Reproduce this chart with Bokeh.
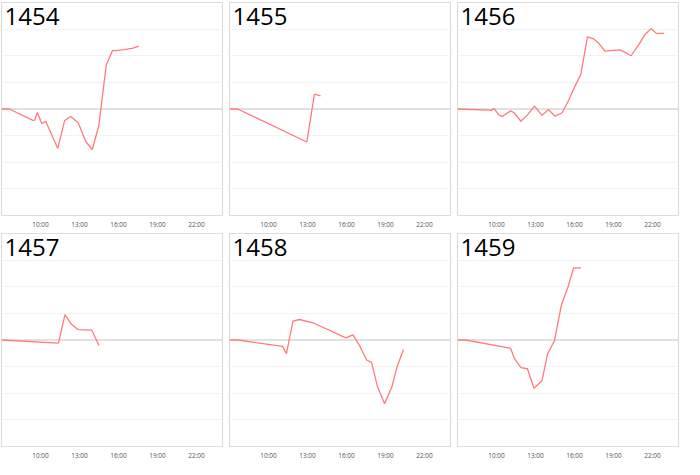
from bokeh.plotting import figure
from bokeh.layouts import gridplot
from bokeh.models import Range1d, FixedTicker, Span, Label
from bokeh.embed import file_html
from bokeh.resources import INLINE

# ---- data ----
panel_ids = ["1454", "1455", "1456", "1457", "1458", "1459"]
tick_labels = ["10:00", "13:00", "16:00", "19:00", "22:00"]

t_1454 = [7.0, 7.6, 9.42, 9.55, 9.75, 10.1, 10.4, 11.33, 11.86, 12.32, 12.9, 13.48, 13.98, 14.48, 15.06, 15.54, 15.84, 16.42, 17.05, 17.56]
v_1454 = [0.0, 0.0, -0.43, -0.42, -0.13, -0.54, -0.46, -1.48, -0.43, -0.28, -0.52, -1.22, -1.52, -0.64, 1.65, 2.2, 2.19, 2.23, 2.28, 2.36]

t_1455 = [7.0, 7.63, 12.95, 13.53, 13.6, 14.0]
v_1455 = [0.0, 0.0, -1.24, 0.55, 0.55, 0.49]

t_1456 = [7.0, 9.5, 9.6, 9.8, 10.18, 10.43, 11.1, 11.35, 11.88, 12.38, 12.93, 13.5, 14.0, 14.5, 15.05, 15.55, 16.05, 16.48, 17.0, 17.48, 17.83, 18.35, 18.93, 19.5, 19.93, 20.35, 20.93, 21.43, 21.88, 22.3, 22.88]
v_1456 = [0.0, -0.04, -0.06, 0.02, -0.22, -0.28, -0.07, -0.14, -0.46, -0.22, 0.11, -0.24, -0.02, -0.27, -0.14, 0.33, 0.87, 1.29, 2.71, 2.63, 2.49, 2.17, 2.2, 2.22, 2.12, 2.0, 2.41, 2.8, 3.02, 2.84, 2.84]

t_1457 = [7.0, 11.38, 11.88, 12.38, 12.88, 13.95, 14.5]
v_1457 = [0.0, -0.12, 0.95, 0.59, 0.39, 0.37, -0.21]

t_1458 = [7.0, 7.63, 11.08, 11.38, 11.88, 12.38, 13.5, 15.95, 16.5, 17.08, 17.55, 17.93, 18.38, 18.93, 19.5, 19.88, 20.38]
v_1458 = [0.0, 0.0, -0.24, -0.51, 0.71, 0.77, 0.63, 0.08, 0.19, -0.28, -0.75, -0.84, -1.75, -2.39, -1.75, -1.02, -0.36]

t_1459 = [7.0, 7.63, 11.08, 11.38, 11.88, 12.38, 12.88, 13.5, 13.93, 14.45, 15.0, 15.5, 15.93, 16.5]
v_1459 = [0.0, 0.0, -0.31, -0.7, -1.04, -1.08, -1.81, -1.53, -0.52, -0.04, 1.33, 1.99, 2.71, 2.71]

series = {
    "1454": (t_1454, v_1454),
    "1455": (t_1455, v_1455),
    "1456": (t_1456, v_1456),
    "1457": (t_1457, v_1457),
    "1458": (t_1458, v_1458),
    "1459": (t_1459, v_1459),
}

x_start, x_end = 7, 24
y_min, y_max = -4, 4
grid_levels = [-3, -2, -1, 1, 2, 3]

tick_pos = [int(s.split(":")[0]) + int(s.split(":")[1]) / 60 for s in tick_labels]
overrides = {p: s for p, s in zip(tick_pos, tick_labels)}

LINE = "#ff7b7b"
FONT = "Open Sans"


def make_panel(pid):
    t, v = series[pid]
    p = figure(frame_width=221, frame_height=213, output_backend="svg",
               toolbar_location=None, y_axis_location=None,
               x_range=Range1d(x_start, x_end), y_range=Range1d(y_min, y_max),
               min_border_left=1, min_border_right=6,
               min_border_top=2, min_border_bottom=14)
    p.background_fill_color = "white"
    p.border_fill_color = "white"
    p.outline_line_color = "#dcdcdc"
    p.outline_line_width = 1.2
    p.xgrid.visible = False
    p.ygrid.ticker = FixedTicker(ticks=grid_levels)
    p.ygrid.grid_line_color = "#f3f3f3"
    p.ygrid.grid_line_width = 1
    ax = p.xaxis[0]
    ax.ticker = FixedTicker(ticks=tick_pos)
    ax.major_label_overrides = overrides
    ax.major_tick_out = 0
    ax.major_tick_in = 0
    ax.minor_tick_out = 0
    ax.minor_tick_in = 0
    ax.axis_line_color = None
    ax.major_label_standoff = 4
    ax.major_label_text_font = FONT
    ax.major_label_text_font_size = "6.5px"
    ax.major_label_text_color = "#555555"
    zero = Span(location=0, dimension="width", line_color="#c4c4c4",
                line_width=1.2, level="underlay")
    p.add_layout(zero)
    p.line(t, v, line_color=LINE, line_width=1.3)
    lab = Label(x=x_start, y=y_max, text=pid, x_offset=3, y_offset=-5,
                text_baseline="top", text_align="left",
                text_font=FONT, text_font_size="24px", text_color="black")
    p.add_layout(lab)
    return p


panels = [make_panel(pid) for pid in panel_ids]
grid = gridplot([panels[0:3], panels[3:6]], toolbar_location=None)

open("out.html", "w").write(file_html(grid, INLINE))
